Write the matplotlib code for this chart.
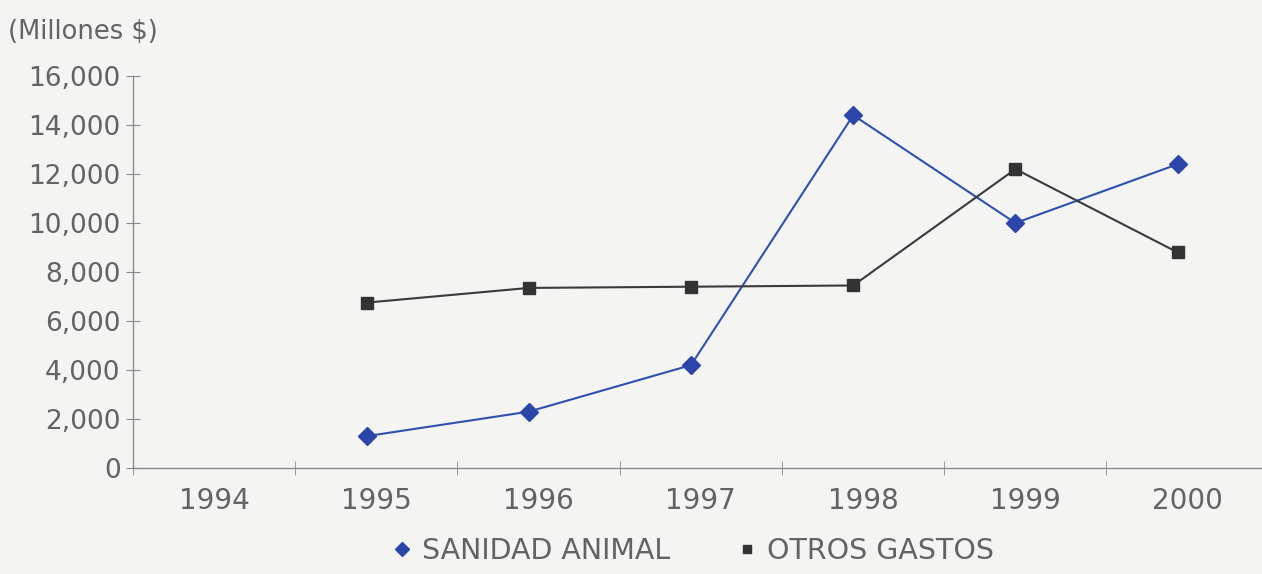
import numpy as np
import matplotlib
matplotlib.use("Agg")
from matplotlib import pyplot as plt

# categories and series values (millones $)
years = ['1994', '1995', '1996', '1997', '1998', '1999', '2000']
sanidad_years = ['1995', '1996', '1997', '1998', '1999', '2000']
sanidad_animal = [1300, 2300, 4200, 14400, 10000, 12400]
otros_gastos = [6750, 7350, 7400, 7450, 12200, 8800]
y_ticks = [0, 2000, 4000, 6000, 8000, 10000, 12000, 14000, 16000]

plt.rcParams['font.family'] = ['DejaVu Sans']
text_color = '#636363'
bg = '#f4f4f2'

fig = plt.figure(figsize=(12.62, 5.74), dpi=100, facecolor=bg)
ax = fig.add_axes([133/1262, 106/574, 1129/1262, 392/574])
ax.set_facecolor(bg)

# points sit slightly left of the category centre in the original
x = np.array([years.index(y) for y in sanidad_years]) - 0.06
ax.plot(x, sanidad_animal, color='#3050b0', lw=1.5, marker='D', ms=9,
        mfc='#2c45a8', mec='#2c45a8', label='SANIDAD ANIMAL')
ax.plot(x, otros_gastos, color='#3a3a3a', lw=1.5, marker='s', ms=8,
        mfc='#333333', mec='#333333', label='OTROS GASTOS')

ax.set_xlim(-0.5, 6.46)
ax.set_ylim(0, 16000)
ax.set_yticks(y_ticks)
ax.set_yticklabels([f'{v:,}' for v in y_ticks])
ax.set_xticks(np.arange(len(years)))
ax.set_xticklabels(years)
ax.set_xticks(np.arange(len(years)) - 0.5, minor=True)

for s in ['top', 'right']:
    ax.spines[s].set_visible(False)
for s in ['left', 'bottom']:
    ax.spines[s].set_color('#8a8a8a')
    ax.spines[s].set_linewidth(1.0)

ax.tick_params(axis='y', direction='inout', length=10, color='#8a8a8a',
               labelsize=19, labelcolor=text_color, pad=4)
ax.tick_params(axis='x', which='major', length=0, labelsize=20,
               labelcolor=text_color, pad=14)
ax.tick_params(axis='x', which='minor', direction='inout', length=10,
               color='#8a8a8a')

fig.text(8/1262, 1 - 32/574, '(Millones $)', fontsize=18.5, color=text_color,
         va='center', ha='left')

leg = fig.legend(loc='center', bbox_to_anchor=(694/1262, 1 - 551/574), ncol=2,
                 frameon=False, fontsize=20.5, handlelength=0.6,
                 columnspacing=2.4, handletextpad=0.4, markerscale=0.8)
for t in leg.get_texts():
    t.set_color(text_color)
for h in leg.legend_handles:
    h.set_linestyle('none')

fig.savefig('out.png', dpi=100, facecolor=bg)
